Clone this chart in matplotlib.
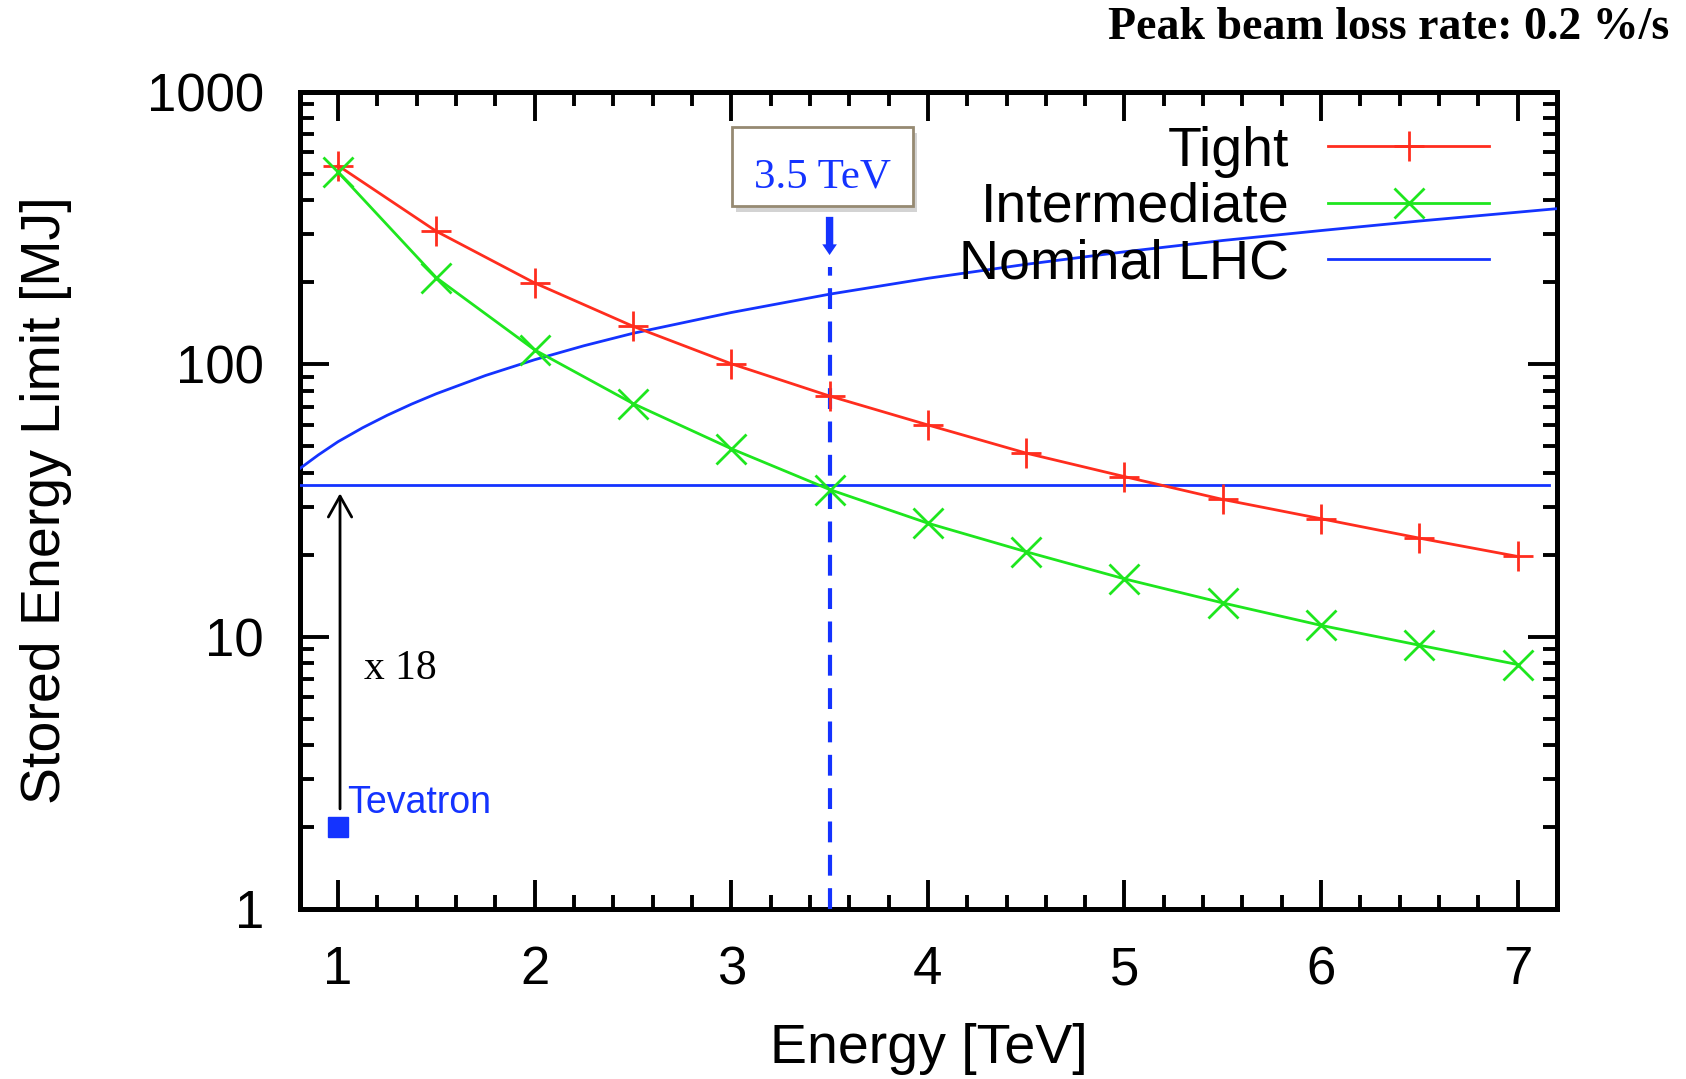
import matplotlib
matplotlib.use("Agg")
import matplotlib.pyplot as plt
from matplotlib.ticker import FixedLocator, FixedFormatter, NullFormatter
from matplotlib.patches import Rectangle

# ---------------- data ----------------
energy = [1.0, 1.5, 2.0, 2.5, 3.0, 3.5, 4.0, 4.5, 5.0, 5.5, 6.0, 6.5, 7.0]
tight = [537, 308, 199, 138, 100.5, 76.5, 59.9, 47.2, 38.7, 31.9, 27.1, 23.0, 19.7]
intermediate = [508, 208, 113, 71.8, 49.0, 34.7, 26.1, 20.5, 16.3, 13.3, 11.0, 9.3, 7.9]

nominal_energy = [0.807, 0.9, 1.0, 1.125, 1.25, 1.375, 1.5, 1.75, 2.0, 2.25, 2.5, 3.0,
                  3.5, 4.0, 4.5, 5.0, 5.5, 6.0, 6.5, 7.0, 7.2]
nominal = [41.5, 46.5, 52, 58.5, 65, 71.5, 78, 91, 104, 117, 130, 155,
           181, 207, 233, 259, 285, 310, 336, 362, 373]

tevatron_energy = [1.0]
tevatron_limit = [2.0]
level_energy = [0.807, 7.16]
level_limit = [36, 36]
factor_label = "x 18"
marked_energy = 3.5

x_ticks = [1, 2, 3, 4, 5, 6, 7]
y_ticks = [1, 10, 100, 1000]
y_tick_labels = ["1", "10", "100", "1000"]

RED = "#ff2d1e"
GREEN = "#1ee61e"
BLUE = "#1433ff"

sans = ["Liberation Sans", "DejaVu Sans"]
serif = ["Liberation Serif", "DejaVu Serif"]

fig = plt.figure(figsize=(16.86, 10.79), dpi=100)
ax = fig.add_axes([0.178, 0.1576, 0.7455, 0.7571])
ax.set_yscale("log")
ax.set_xlim(0.807, 7.2)
ax.set_ylim(1, 1000)

l_nom, = ax.plot(nominal_energy, nominal, color=BLUE, lw=2.0, label="Nominal LHC", zorder=3)
ax.plot(level_energy, level_limit, color=BLUE, lw=2.0, zorder=3)
l_tight, = ax.plot(energy, tight, color=RED, lw=2.0, marker="+", ms=22, mew=2.0,
                   label="Tight", zorder=4)
l_int, = ax.plot(energy, intermediate, color=GREEN, lw=2.0, marker="x", ms=21, mew=2.0,
                 label="Intermediate", zorder=4)
ax.plot(tevatron_energy, tevatron_limit, color=BLUE, marker="s", ms=15, ls="none",
        zorder=5)

# vertical dashed marker line
ax.plot([marked_energy, marked_energy], [1, 228], color=BLUE, lw=3.0,
        ls=(0, (5.0, 3.0)), zorder=3)
ax.annotate("", xy=(marked_energy, 252), xytext=(marked_energy, 348),
            arrowprops=dict(arrowstyle="simple,head_width=0.75,head_length=0.55,tail_width=0.38",
                            color=BLUE, lw=0, shrinkA=0, shrinkB=0, mutation_scale=14),
            zorder=6)

# x18 arrow
ax.annotate("", xy=(tevatron_energy[0] + 0.01, 33.6),
            xytext=(tevatron_energy[0] + 0.01, 2.33),
            arrowprops=dict(arrowstyle="->,head_width=0.42,head_length=0.75",
                            color="black", lw=2.0, shrinkA=0, shrinkB=0,
                            mutation_scale=20))
ax.text(1.13, 7.0, factor_label, fontsize=30, family=serif, color="black",
        va="baseline", ha="left")
ax.text(1.046, 2.25, "Tevatron", fontsize=27, family=sans, color=BLUE,
        va="baseline", ha="left")

# 3.5 TeV box with shadow
bx, by, bw, bh = 0.3437, 0.8605, 0.144, 0.0967
ax.add_patch(Rectangle((bx + 0.003, by - 0.007), bw, bh, transform=ax.transAxes,
                       fc="#b0b0b0", ec="none", alpha=0.55, zorder=6, clip_on=False))
ax.add_patch(Rectangle((bx, by), bw, bh, transform=ax.transAxes,
                       fc="white", ec="#968a72", lw=2.0, zorder=7, clip_on=False))
ax.text(bx + bw / 2, 0.8837, "3.5 TeV", transform=ax.transAxes,
        fontsize=31, family=serif, color=BLUE, ha="center", va="baseline", zorder=8)

# legend
leg = ax.legend(handles=[l_tight, l_int, l_nom],
                loc="upper right", bbox_to_anchor=(0.946, 0.959),
                markerfirst=False, frameon=False,
                prop={"family": sans, "size": 40},
                handlelength=2.9, handletextpad=0.7, labelspacing=0.08,
                borderpad=0.0, borderaxespad=0.0, numpoints=1)
leg.set_zorder(8)

# ticks
ax.xaxis.set_major_locator(FixedLocator(x_ticks))
ax.xaxis.set_minor_locator(FixedLocator([1 + 0.2 * i for i in range(-1, 32) if (i % 5) != 0]))
ax.yaxis.set_major_locator(FixedLocator(y_ticks))
ax.yaxis.set_major_formatter(FixedFormatter(y_tick_labels))
ax.yaxis.set_minor_locator(FixedLocator([m * 10 ** d for d in range(0, 3) for m in range(2, 10)]))
ax.yaxis.set_minor_formatter(NullFormatter())
ax.tick_params(which="both", direction="in", top=True, right=True, width=2.8, color="black")
ax.tick_params(which="major", length=21, labelsize=38, pad=26)
ax.tick_params(which="minor", length=10)
for lab in ax.get_xticklabels() + ax.get_yticklabels():
    lab.set_family(sans)
for s in ax.spines.values():
    s.set_linewidth(3.6)

ax.set_xlabel("Energy [TeV]", fontsize=40, family=sans, labelpad=20)
ax.set_ylabel("Stored Energy Limit [MJ]", fontsize=40, family=sans, labelpad=54)

fig.text(0.99, 0.964, "Peak beam loss rate: 0.2 %/s", fontsize=33, family=serif,
         weight="bold", ha="right", va="baseline")

fig.savefig("out.png", dpi=100)
